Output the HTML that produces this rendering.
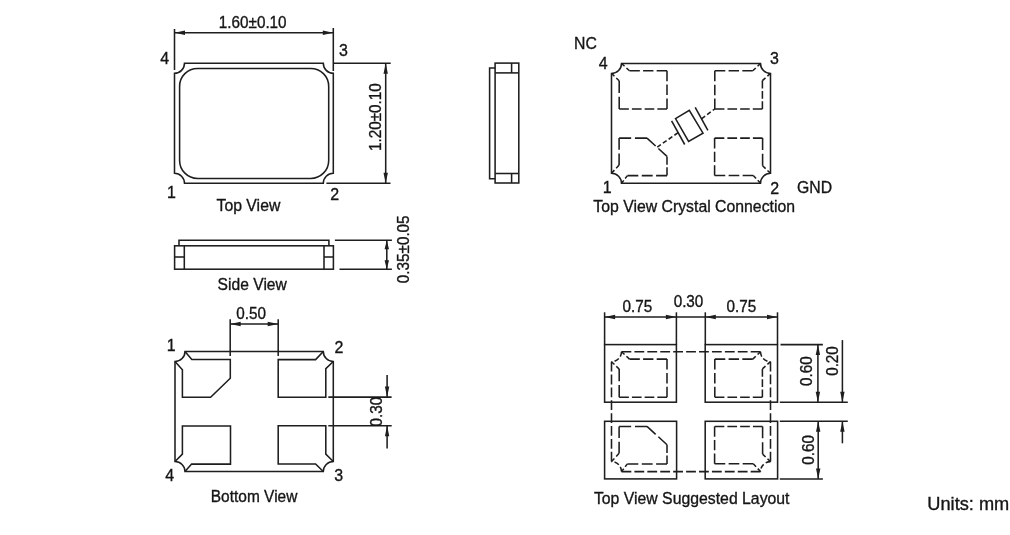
<!DOCTYPE html>
<html><head><meta charset="utf-8"><style>
html,body{margin:0;padding:0;background:#fff;width:1010px;height:535px;overflow:hidden}
svg{display:block;will-change:transform}
text{font-family:"Liberation Sans",sans-serif;fill:#151515;stroke:#151515;stroke-width:0.35px}

</style></head><body><div id="wrap">
<svg width="1010" height="535" viewBox="0 0 1010 535">
<g fill="none" stroke="#1e1e1e" stroke-linecap="butt" stroke-linejoin="miter">
<path d="M184.5 63.3 L323.3 63.3 A10 10 0 0 0 333.3 73.3 L333.3 173.3 A10 10 0 0 0 323.3 183.3 L184.5 183.3 A10 10 0 0 0 174.5 173.3 L174.5 73.3 A10 10 0 0 0 184.5 63.3 Z" stroke-width="1.55"/>
<rect x="179.6" y="68.4" width="149.1" height="110" rx="18" ry="18" stroke-width="1.55"/>
<line x1="174.5" y1="29" x2="174.5" y2="70" stroke-width="1.55"/>
<line x1="333.3" y1="28" x2="333.3" y2="71" stroke-width="1.55"/>
<line x1="174.5" y1="32.7" x2="333.3" y2="32.7" stroke-width="1.55"/>
<path d="M174.5 32.7 L185 30.5 L185 34.9 Z" fill="#1e1e1e" stroke="none"/>
<path d="M333.3 32.7 L322.8 34.9 L322.8 30.5 Z" fill="#1e1e1e" stroke="none"/>
<text x="0" y="0" transform="translate(252.7 28.1) scale(0.943 1.0)" text-anchor="middle" font-size="16.2">1.60&#177;0.10</text>
<line x1="333.3" y1="63.3" x2="390.7" y2="63.3" stroke-width="1.55"/>
<line x1="326.4" y1="183.3" x2="390.5" y2="183.3" stroke-width="1.55"/>
<line x1="385.7" y1="63.3" x2="385.7" y2="183.3" stroke-width="1.55"/>
<path d="M385.7 63.3 L387.9 73.8 L383.5 73.8 Z" fill="#1e1e1e" stroke="none"/>
<path d="M385.7 183.3 L383.5 172.8 L387.9 172.8 Z" fill="#1e1e1e" stroke="none"/>
<text x="0" y="0" transform="translate(380.5 117.1) rotate(-90) scale(0.943 1.0)" text-anchor="middle" font-size="16.2">1.20&#177;0.10</text>
<text x="0" y="0" transform="translate(164.6 63.6) scale(0.93 1.0)" text-anchor="middle" font-size="17.2">4</text>
<text x="0" y="0" transform="translate(343.4 55.6) scale(0.93 1.0)" text-anchor="middle" font-size="17.2">3</text>
<text x="0" y="0" transform="translate(171.5 197.6) scale(0.93 1.0)" text-anchor="middle" font-size="17.2">1</text>
<text x="0" y="0" transform="translate(334.7 199.8) scale(0.93 1.0)" text-anchor="middle" font-size="17.2">2</text>
<text x="0" y="0" transform="translate(216.5 210.8) scale(0.93 1.0)" text-anchor="start" font-size="17.0">Top View</text>
<path d="M495.1 68 L489.6 68 L489.6 178.7 L495.1 178.7" stroke-width="1.55"/>
<rect x="495.1" y="63.1" width="23.7" height="119.9" stroke-width="1.55"/>
<line x1="495.1" y1="72.9" x2="518.8" y2="72.9" stroke-width="1.55"/>
<line x1="495.1" y1="173.5" x2="518.8" y2="173.5" stroke-width="1.55"/>
<line x1="511.6" y1="63.1" x2="511.6" y2="72.9" stroke-width="1.55"/>
<line x1="511.6" y1="173.5" x2="511.6" y2="183" stroke-width="1.55"/>
<path d="M179 245.8 L179 240.2 L328.9 240.2 L328.9 245.8" stroke-width="1.55"/>
<rect x="174.6" y="245.8" width="158.8" height="23.4" stroke-width="1.55"/>
<line x1="184.3" y1="245.8" x2="184.3" y2="269.2" stroke-width="1.55"/>
<line x1="324" y1="245.8" x2="324" y2="269.2" stroke-width="1.55"/>
<line x1="174.6" y1="257" x2="184.3" y2="257" stroke-width="1.55"/>
<line x1="324" y1="257" x2="333.4" y2="257" stroke-width="1.55"/>
<line x1="334.9" y1="240.2" x2="391.9" y2="240.2" stroke-width="1.55"/>
<line x1="339.5" y1="269.2" x2="391.9" y2="269.2" stroke-width="1.55"/>
<line x1="386.8" y1="240.2" x2="386.8" y2="269.2" stroke-width="1.55"/>
<path d="M386.8 240.2 L389 249.2 L384.6 249.2 Z" fill="#1e1e1e" stroke="none"/>
<path d="M386.8 269.2 L384.6 260.2 L389 260.2 Z" fill="#1e1e1e" stroke="none"/>
<text x="0" y="0" transform="translate(408.7 249.3) rotate(-90) scale(0.943 1.0)" text-anchor="middle" font-size="16.2">0.35&#177;0.05</text>
<text x="0" y="0" transform="translate(217.6 289.8) scale(0.92 1.0)" text-anchor="start" font-size="17.0">Side View</text>
<path d="M185 351.5 L323.3 351.5 A10 10 0 0 0 333.3 361.5 L333.3 461.5 A10 10 0 0 0 323.3 471.5 L185 471.5 A10 10 0 0 0 175 461.5 L175 361.5 A10 10 0 0 0 185 351.5 Z" stroke-width="1.55"/>
<path d="M185 351.5 L191.8 359.5 L230.3 359.5 L230.3 378.2 L210.6 397.2 L182.4 397.2 L182.4 369.8 L175 361.5" stroke-width="1.55"/>
<path d="M323.3 351.5 L315.6 359.6 L278.2 359.6 L278.2 397.2 L325.8 397.2 L325.8 368.6 L333.3 361.5" stroke-width="1.55"/>
<path d="M175 461.5 L182.4 454.1 L182.4 426 L230.5 426 L230.5 464.1 L191.6 464.1 L185 471.5" stroke-width="1.55"/>
<path d="M333.3 461.5 L325.8 454.1 L325.8 425.8 L278.2 425.8 L278.2 463.9 L315.6 463.9 L323.3 471.5" stroke-width="1.55"/>
<line x1="230.2" y1="319.3" x2="230.2" y2="356" stroke-width="1.55"/>
<line x1="278.2" y1="319.3" x2="278.2" y2="356" stroke-width="1.55"/>
<line x1="230.2" y1="324" x2="278.2" y2="324" stroke-width="1.55"/>
<path d="M230.2 324 L240.7 321.8 L240.7 326.2 Z" fill="#1e1e1e" stroke="none"/>
<path d="M278.2 324 L267.7 326.2 L267.7 321.8 Z" fill="#1e1e1e" stroke="none"/>
<text x="0" y="0" transform="translate(251.2 319.4) scale(0.943 1.0)" text-anchor="middle" font-size="16.2">0.50</text>
<line x1="328.3" y1="397.1" x2="391.6" y2="397.1" stroke-width="1.55"/>
<line x1="328.3" y1="425.8" x2="391.7" y2="425.8" stroke-width="1.55"/>
<line x1="387.1" y1="375" x2="387.1" y2="397.1" stroke-width="1.55"/>
<path d="M387.1 397.1 L384.9 386.6 L389.3 386.6 Z" fill="#1e1e1e" stroke="none"/>
<line x1="387.1" y1="448.6" x2="387.1" y2="425.8" stroke-width="1.55"/>
<path d="M387.1 425.8 L389.3 436.3 L384.9 436.3 Z" fill="#1e1e1e" stroke="none"/>
<text x="0" y="0" transform="translate(382.4 411.7) rotate(-90) scale(0.943 1.0)" text-anchor="middle" font-size="16.2">0.30</text>
<text x="0" y="0" transform="translate(171.2 351.4) scale(0.93 1.0)" text-anchor="middle" font-size="17.2">1</text>
<text x="0" y="0" transform="translate(339 352.8) scale(0.93 1.0)" text-anchor="middle" font-size="17.2">2</text>
<text x="0" y="0" transform="translate(169.7 481.2) scale(0.93 1.0)" text-anchor="middle" font-size="17.2">4</text>
<text x="0" y="0" transform="translate(338.7 480.8) scale(0.93 1.0)" text-anchor="middle" font-size="17.2">3</text>
<text x="0" y="0" transform="translate(210.8 501.9) scale(0.91 1.0)" text-anchor="start" font-size="17.0">Bottom View</text>
<path d="M621.5 63.4 L760.5 63.4 A10 10 0 0 0 770.5 73.4 L770.5 173.3 A10 10 0 0 0 760.5 183.3 L621.5 183.3 A10 10 0 0 0 611.5 173.3 L611.5 73.4 A10 10 0 0 0 621.5 63.4 Z" stroke-width="1.55"/>
<line x1="621.5" y1="63.4" x2="629.5" y2="70.8" stroke-width="1.55" stroke-dasharray="4.15 2.59"/>
<line x1="629.5" y1="70.8" x2="667" y2="70.8" stroke-width="1.55" stroke-dasharray="10.33 3.26"/>
<line x1="667" y1="70.8" x2="667" y2="108.9" stroke-width="1.55" stroke-dasharray="10.49 3.31"/>
<line x1="667" y1="108.9" x2="619.2" y2="108.9" stroke-width="1.55" stroke-dasharray="9.66 3.05"/>
<line x1="619.2" y1="108.9" x2="619.2" y2="80.8" stroke-width="1.55" stroke-dasharray="12.13 3.83"/>
<line x1="619.2" y1="80.8" x2="611.5" y2="73.4" stroke-width="1.55" stroke-dasharray="4.07 2.54"/>
<line x1="760.5" y1="63.4" x2="752.8" y2="70.8" stroke-width="1.55" stroke-dasharray="4.07 2.54"/>
<line x1="752.8" y1="70.8" x2="714.8" y2="70.8" stroke-width="1.55" stroke-dasharray="10.46 3.3"/>
<line x1="714.8" y1="70.8" x2="714.8" y2="109" stroke-width="1.55" stroke-dasharray="10.52 3.32"/>
<line x1="714.8" y1="109" x2="762.4" y2="109" stroke-width="1.55" stroke-dasharray="9.62 3.04"/>
<line x1="762.4" y1="109" x2="762.4" y2="80.6" stroke-width="1.55" stroke-dasharray="7.82 2.47"/>
<line x1="762.4" y1="80.6" x2="770.5" y2="73.4" stroke-width="1.55" stroke-dasharray="4.13 2.58"/>
<line x1="611.5" y1="173.3" x2="619.1" y2="165" stroke-width="1.55" stroke-dasharray="4.29 2.68"/>
<line x1="619.1" y1="165" x2="619.1" y2="138.1" stroke-width="1.55" stroke-dasharray="11.62 3.67"/>
<line x1="619.1" y1="138.1" x2="647" y2="138.1" stroke-width="1.55" stroke-dasharray="12.05 3.8"/>
<line x1="647" y1="138.1" x2="667" y2="156.4" stroke-width="1.55" stroke-dasharray="11.71 3.7"/>
<line x1="667" y1="156.4" x2="667" y2="175.6" stroke-width="1.55" stroke-dasharray="8.29 2.62"/>
<line x1="667" y1="175.6" x2="627.4" y2="175.6" stroke-width="1.55" stroke-dasharray="10.9 3.44"/>
<line x1="627.4" y1="175.6" x2="621.5" y2="183.3" stroke-width="1.55" stroke-dasharray="3.7 2.31"/>
<line x1="770.5" y1="173.3" x2="762.6" y2="165.8" stroke-width="1.55" stroke-dasharray="4.15 2.59"/>
<line x1="762.6" y1="165.8" x2="762.6" y2="138.1" stroke-width="1.55" stroke-dasharray="11.96 3.78"/>
<line x1="762.6" y1="138.1" x2="714.6" y2="138.1" stroke-width="1.55" stroke-dasharray="9.7 3.06"/>
<line x1="714.6" y1="138.1" x2="714.6" y2="175.5" stroke-width="1.55" stroke-dasharray="10.3 3.25"/>
<line x1="714.6" y1="175.5" x2="753.3" y2="175.5" stroke-width="1.55" stroke-dasharray="10.66 3.37"/>
<line x1="753.3" y1="175.5" x2="760.5" y2="183.3" stroke-width="1.55" stroke-dasharray="4.04 2.53"/>
<path d="M675.5 118.6 L689.3 110.4 L703 133.2 L688.6 141.5 Z" stroke-width="1.55"/>
<line x1="671.6" y1="120.9" x2="684.7" y2="144.5" stroke-width="1.55"/>
<line x1="695.2" y1="107.4" x2="707.9" y2="130.3" stroke-width="1.55"/>
<line x1="701.5" y1="118.8" x2="714.8" y2="109" stroke-width="1.55" stroke-dasharray="4.5 2.5"/>
<line x1="678.1" y1="132.7" x2="657.3" y2="147.1" stroke-width="1.55" stroke-dasharray="4.5 2.5"/>
<text x="0" y="0" transform="translate(574 49.4) scale(0.93 1.0)" text-anchor="start" font-size="17.0">NC</text>
<text x="0" y="0" transform="translate(603.3 68.9) scale(0.93 1.0)" text-anchor="middle" font-size="17.2">4</text>
<text x="0" y="0" transform="translate(774.5 63.8) scale(0.93 1.0)" text-anchor="middle" font-size="17.2">3</text>
<text x="0" y="0" transform="translate(607.3 192.9) scale(0.93 1.0)" text-anchor="middle" font-size="17.2">1</text>
<text x="0" y="0" transform="translate(774.8 194.1) scale(0.93 1.0)" text-anchor="middle" font-size="17.2">2</text>
<text x="0" y="0" transform="translate(797 193) scale(0.93 1.0)" text-anchor="start" font-size="17.0">GND</text>
<text x="0" y="0" transform="translate(593.3 212.1) scale(0.93 1.0)" text-anchor="start" font-size="17.0">Top View Crystal Connection</text>
<rect x="604.6" y="344.6" width="71.8" height="57.6" stroke-width="1.55"/>
<rect x="705.2" y="344.6" width="72.3" height="57.6" stroke-width="1.55"/>
<rect x="604.6" y="421.3" width="72" height="57.6" stroke-width="1.55"/>
<rect x="705.2" y="421.3" width="72.4" height="57.6" stroke-width="1.55"/>
<line x1="621.5" y1="351.7" x2="760.5" y2="351.7" stroke-width="1.55" stroke-dasharray="9.82 3.1"/>
<line x1="770.5" y1="361.7" x2="770.5" y2="461.6" stroke-width="1.55" stroke-dasharray="9.78 3.09"/>
<line x1="760.5" y1="471.6" x2="621.5" y2="471.6" stroke-width="1.55" stroke-dasharray="9.82 3.1"/>
<line x1="611.5" y1="461.6" x2="611.5" y2="361.7" stroke-width="1.55" stroke-dasharray="9.78 3.09"/>
<path d="M621.5 351.7 A10 10 0 0 1 611.5 361.7" stroke-width="1.55" stroke-dasharray="5 2.5"/>
<path d="M760.5 351.7 A10 10 0 0 0 770.5 361.7" stroke-width="1.55" stroke-dasharray="5 2.5"/>
<path d="M770.5 461.6 A10 10 0 0 0 760.5 471.6" stroke-width="1.55" stroke-dasharray="5 2.5"/>
<path d="M621.5 471.6 A10 10 0 0 0 611.5 461.6" stroke-width="1.55" stroke-dasharray="5 2.5"/>
<line x1="621.5" y1="351.7" x2="629.5" y2="359.1" stroke-width="1.55" stroke-dasharray="4.15 2.59"/>
<line x1="629.5" y1="359.1" x2="667" y2="359.1" stroke-width="1.55" stroke-dasharray="10.33 3.26"/>
<line x1="667" y1="359.1" x2="667" y2="397.2" stroke-width="1.55" stroke-dasharray="10.49 3.31"/>
<line x1="667" y1="397.2" x2="619.2" y2="397.2" stroke-width="1.55" stroke-dasharray="9.66 3.05"/>
<line x1="619.2" y1="397.2" x2="619.2" y2="369.1" stroke-width="1.55" stroke-dasharray="12.13 3.83"/>
<line x1="619.2" y1="369.1" x2="611.5" y2="361.7" stroke-width="1.55" stroke-dasharray="4.07 2.54"/>
<line x1="760.5" y1="351.7" x2="752.8" y2="359.1" stroke-width="1.55" stroke-dasharray="4.07 2.54"/>
<line x1="752.8" y1="359.1" x2="714.8" y2="359.1" stroke-width="1.55" stroke-dasharray="10.46 3.3"/>
<line x1="714.8" y1="359.1" x2="714.8" y2="397.3" stroke-width="1.55" stroke-dasharray="10.52 3.32"/>
<line x1="714.8" y1="397.3" x2="762.4" y2="397.3" stroke-width="1.55" stroke-dasharray="9.62 3.04"/>
<line x1="762.4" y1="397.3" x2="762.4" y2="368.9" stroke-width="1.55" stroke-dasharray="7.82 2.47"/>
<line x1="762.4" y1="368.9" x2="770.5" y2="361.7" stroke-width="1.55" stroke-dasharray="4.13 2.58"/>
<line x1="611.5" y1="461.6" x2="619.1" y2="453.3" stroke-width="1.55" stroke-dasharray="4.29 2.68"/>
<line x1="619.1" y1="453.3" x2="619.1" y2="426.4" stroke-width="1.55" stroke-dasharray="11.62 3.67"/>
<line x1="619.1" y1="426.4" x2="647" y2="426.4" stroke-width="1.55" stroke-dasharray="12.05 3.8"/>
<line x1="647" y1="426.4" x2="667" y2="444.7" stroke-width="1.55" stroke-dasharray="11.71 3.7"/>
<line x1="667" y1="444.7" x2="667" y2="463.9" stroke-width="1.55" stroke-dasharray="8.29 2.62"/>
<line x1="667" y1="463.9" x2="627.4" y2="463.9" stroke-width="1.55" stroke-dasharray="10.9 3.44"/>
<line x1="627.4" y1="463.9" x2="621.5" y2="471.6" stroke-width="1.55" stroke-dasharray="3.7 2.31"/>
<line x1="770.5" y1="461.6" x2="762.6" y2="454.1" stroke-width="1.55" stroke-dasharray="4.15 2.59"/>
<line x1="762.6" y1="454.1" x2="762.6" y2="426.4" stroke-width="1.55" stroke-dasharray="11.96 3.78"/>
<line x1="762.6" y1="426.4" x2="714.6" y2="426.4" stroke-width="1.55" stroke-dasharray="9.7 3.06"/>
<line x1="714.6" y1="426.4" x2="714.6" y2="463.8" stroke-width="1.55" stroke-dasharray="10.3 3.25"/>
<line x1="714.6" y1="463.8" x2="753.3" y2="463.8" stroke-width="1.55" stroke-dasharray="10.66 3.37"/>
<line x1="753.3" y1="463.8" x2="760.5" y2="471.6" stroke-width="1.55" stroke-dasharray="4.04 2.53"/>
<line x1="604.6" y1="312.3" x2="604.6" y2="344.6" stroke-width="1.55"/>
<line x1="676.4" y1="312.3" x2="676.4" y2="344.6" stroke-width="1.55"/>
<line x1="705.3" y1="312.3" x2="705.3" y2="344.6" stroke-width="1.55"/>
<line x1="777.5" y1="312.3" x2="777.5" y2="344.6" stroke-width="1.55"/>
<line x1="604.6" y1="317" x2="777.5" y2="317" stroke-width="1.55"/>
<path d="M604.6 317 L615.1 314.8 L615.1 319.2 Z" fill="#1e1e1e" stroke="none"/>
<path d="M676.4 317 L665.9 319.2 L665.9 314.8 Z" fill="#1e1e1e" stroke="none"/>
<path d="M705.3 317 L715.8 314.8 L715.8 319.2 Z" fill="#1e1e1e" stroke="none"/>
<path d="M777.5 317 L767 319.2 L767 314.8 Z" fill="#1e1e1e" stroke="none"/>
<text x="0" y="0" transform="translate(637.4 311.7) scale(0.943 1.0)" text-anchor="middle" font-size="16.2">0.75</text>
<text x="0" y="0" transform="translate(688.5 307.1) scale(0.943 1.0)" text-anchor="middle" font-size="16.2">0.30</text>
<text x="0" y="0" transform="translate(741.3 311.7) scale(0.943 1.0)" text-anchor="middle" font-size="16.2">0.75</text>
<line x1="780.5" y1="344.6" x2="822.9" y2="344.6" stroke-width="1.55"/>
<line x1="779.8" y1="402.2" x2="847.8" y2="402.2" stroke-width="1.55"/>
<line x1="779.8" y1="421.3" x2="847.8" y2="421.3" stroke-width="1.55"/>
<line x1="779.8" y1="478.9" x2="822.9" y2="478.9" stroke-width="1.55"/>
<line x1="817.9" y1="344.6" x2="817.9" y2="402.2" stroke-width="1.55"/>
<path d="M817.9 344.6 L820.1 355.1 L815.7 355.1 Z" fill="#1e1e1e" stroke="none"/>
<path d="M817.9 402.2 L815.7 391.7 L820.1 391.7 Z" fill="#1e1e1e" stroke="none"/>
<line x1="818.2" y1="421.3" x2="818.2" y2="478.9" stroke-width="1.55"/>
<path d="M818.2 421.3 L820.4 431.8 L816 431.8 Z" fill="#1e1e1e" stroke="none"/>
<path d="M818.2 478.9 L816 468.4 L820.4 468.4 Z" fill="#1e1e1e" stroke="none"/>
<line x1="842.4" y1="340.1" x2="842.4" y2="402.2" stroke-width="1.55"/>
<path d="M842.4 402.2 L840.2 391.7 L844.6 391.7 Z" fill="#1e1e1e" stroke="none"/>
<line x1="842.4" y1="443.3" x2="842.4" y2="421.3" stroke-width="1.55"/>
<path d="M842.4 421.3 L844.6 431.8 L840.2 431.8 Z" fill="#1e1e1e" stroke="none"/>
<text x="0" y="0" transform="translate(812.3 371.2) rotate(-90) scale(0.943 1.0)" text-anchor="middle" font-size="16.2">0.60</text>
<text x="0" y="0" transform="translate(813.7 449.8) rotate(-90) scale(0.943 1.0)" text-anchor="middle" font-size="16.2">0.60</text>
<text x="0" y="0" transform="translate(837.5 361) rotate(-90) scale(0.943 1.0)" text-anchor="middle" font-size="16.2">0.20</text>
<text x="0" y="0" transform="translate(593.9 503.8) scale(0.93 1.0)" text-anchor="start" font-size="17.0">Top View Suggested Layout</text>
<text x="0" y="0" transform="translate(927.3 509.9) scale(0.975 1.0)" text-anchor="start" font-size="18.7" fill="#000" stroke="#000" stroke-width="0.35">Units: mm</text>
</g>
</svg></div>
</body></html>
